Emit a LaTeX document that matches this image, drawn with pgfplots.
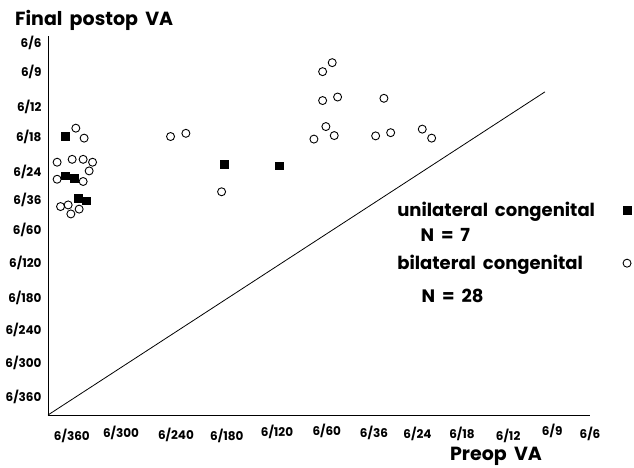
\documentclass[border=0pt]{standalone}
\usepackage{fontspec}
\setmainfont{Poppins}[WordSpace=1.8]
\usepackage{pgfplots}
\pgfplotsset{compat=1.18}
\begin{document}
\begin{tikzpicture}
\useasboundingbox (-48pt,-53pt) rectangle (586pt,415pt);
\begin{axis}[
  scale only axis, width=542pt, height=379pt,
  xmin=-0.46, xmax=10, ymin=-0.59, ymax=11.21,
  axis x line*=bottom, axis y line*=left,
  axis line style={-, line width=0.8pt},
  major tick length=0pt,
  clip=false,
  xtick={0,0.95,2.01,2.99,3.96,4.92,5.83,6.67,7.53,8.42,9.27,10},
  xticklabels={6/360,\raisebox{3pt}{6/300},\raisebox{1pt}{6/240},6/180,\raisebox{3.5pt}{6/120},\raisebox{5pt}{6/60},\raisebox{3pt}{6/36},\raisebox{2pt}{6/24},\raisebox{2pt}{6/18},6/12,\raisebox{4.5pt}{6/9},\raisebox{2pt}{6/6}},
  ytick={-0.03,1.03,2.06,3.05,4.14,5.17,6.11,6.98,8.07,9.00,10.09,11.0},
  yticklabels={6/360,6/300,6/240,6/180,6/120,6/60,6/36,6/24,6/18,6/12,6/9,6/6},
  tick label style={font=\fontsize{12}{14}\selectfont\bfseries},
  xticklabel style={anchor=base, yshift=-25pt},
  yticklabel style={anchor=east, xshift=-3pt},
  legend style={at={(rel axis cs:0.6405,0.567)}, anchor=north west, draw=none, fill=none,
    font=\fontsize{18}{21}\selectfont\bfseries, row sep=33pt, column sep=26pt, inner sep=0pt},
  legend plot pos=right,
  legend cell align=left,
]
\addplot[only marks, mark=square*, mark size=3.9pt, black] coordinates {
(-0.122,8.08) (-0.135,6.86) (0.044,6.78) (0.122,6.16) (0.284,6.08) (2.934,7.22) (3.996,7.17)};
\addlegendentry{unilateral congenital}
\addplot[only marks, mark=o, mark size=4.0pt, black, mark options={line width=0.9pt}] coordinates {
(0.077,8.34) (0.237,8.03)
(-0.284,7.28) (0.006,7.37) (0.218,7.37) (0.400,7.28) (0.334,7.01)
(-0.284,6.75) (0.218,6.68)
(-0.218,5.90) (-0.071,5.95) (-0.019,5.67) (0.141,5.82)
(1.905,8.08) (2.201,8.18) (2.890,6.36)
(4.840,10.10) (5.025,10.38) (4.840,9.20) (5.129,9.31) (4.903,8.39) (4.672,8.00) (5.064,8.11)
(6.023,9.27) (5.863,8.10) (6.153,8.20) (6.763,8.31) (6.944,8.03)};
\addlegendentry{bilateral congenital}
\addplot[black, line width=0.8pt, forget plot] coordinates {(-0.46,-0.59) (9.13,9.47)};
\node[anchor=base west, font=\fontsize{18}{21}\selectfont\bfseries] at (rel axis cs:0.681,0.4565) {N = 7};
\node[anchor=base west, font=\fontsize{18}{21}\selectfont\bfseries] at (rel axis cs:0.683,0.298) {N = 28};
\node[anchor=base west, inner sep=0pt, font=\fontsize{19}{22}\selectfont\bfseries] at (rel axis cs:0,1) [xshift=-33pt, yshift=10pt] {Final postop VA};
\node[anchor=base, inner sep=0pt, font=\fontsize{19}{22}\selectfont\bfseries] at (rel axis cs:0,0) [xshift=448pt, yshift=-45pt] {Preop VA};
\end{axis}
\end{tikzpicture}
\end{document}
